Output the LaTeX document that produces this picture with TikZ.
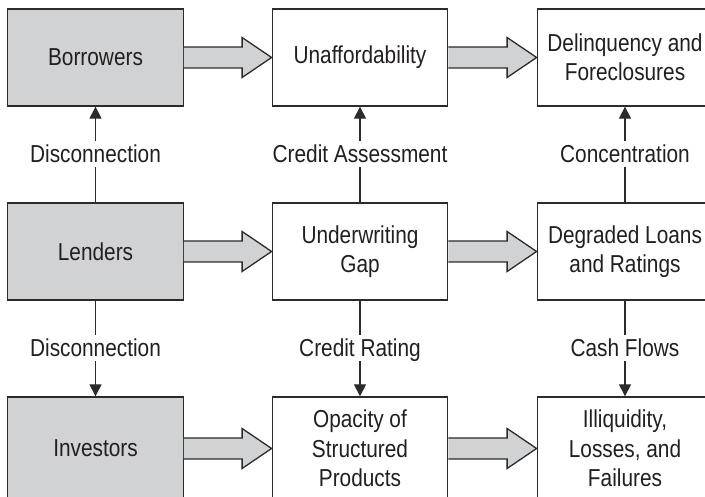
\documentclass[tikz,border=0pt]{standalone}
\usepackage{fontspec}
\setmainfont{Liberation Sans}[FakeStretch=0.85]
\usetikzlibrary{arrows.meta}
\definecolor{boxgray}{HTML}{D1D2D4}
\definecolor{ink}{HTML}{231F20}
\definecolor{edge}{HTML}{2B2B2B}
\tikzset{
  box/.style={draw=edge, line width=1.3pt, minimum width=175.5pt, minimum height=97pt,
    align=center, inner sep=0pt, text=ink, font=\fontsize{24.5}{29.5}\selectfont},
  actor/.style={box, fill=boxgray},
  outcome/.style={box, fill=white},
  tall/.style={minimum height=103pt},
  link/.style={draw=edge, line width=1.1pt, -{Triangle[width=12pt,length=12pt]}},
  lab/.style={fill=white, text=ink, inner xsep=1pt, inner ysep=2pt, text height=19pt, text depth=3pt,
    font=\fontsize{24.5}{29.5}\selectfont},
  blk/.style={fill=boxgray, draw=edge, line width=1.3pt, line join=miter}
}
\newcommand\blockarrow[2]{%
  \filldraw[blk] ([yshift=10.5pt]#1.east) -- ([xshift=-29.5pt,yshift=10.5pt]#2.west)
    -- ([xshift=-29.5pt,yshift=20pt]#2.west) -- (#2.west)
    -- ([xshift=-29.5pt,yshift=-20pt]#2.west) -- ([xshift=-29.5pt,yshift=-10.5pt]#2.west)
    -- ([yshift=-10.5pt]#1.east);}
\begin{document}
\begin{tikzpicture}[x=1pt,y=1pt]
\useasboundingbox (0,0) rectangle (705,497);
% row 1
\node[actor]   (borr)  at (95.5,439.5) {Borrowers};
\node[outcome] (unaff) at (360,439.5)  {Unaffordability};
\node[outcome] (delin) at (625,439.5)  {Delinquency and\\Foreclosures};
% row 2
\node[actor]   (lend)  at (95.5,245.5) {Lenders};
\node[outcome] (under) at (360,245.5)  {Underwriting\\Gap};
\node[outcome] (degr)  at (625,245.5)  {Degraded Loans\\and Ratings};
% row 3
\node[actor,tall]   (inv)   at (95.5,48.5) {Investors};
\node[outcome,tall] (opac)  at (360,48.5)  {Opacity of\\Structured\\Products};
\node[outcome,tall] (illiq) at (625,48.5)  {Illiquidity,\\Losses, and\\Failures};
% block arrows
\blockarrow{borr}{unaff}
\blockarrow{unaff}{delin}
\blockarrow{lend}{under}
\blockarrow{under}{degr}
\blockarrow{inv}{opac}
\blockarrow{opac}{illiq}
% vertical links
\draw[link] (lend) -- node[lab] {Disconnection} (borr);
\draw[link] (lend) -- node[lab] {Disconnection} (inv);
\draw[link] (under) -- node[lab] {Credit Assessment} (unaff);
\draw[link] (under) -- node[lab] {Credit Rating} (opac);
\draw[link] (degr) -- node[lab] {Concentration} (delin);
\draw[link] (degr) -- node[lab] {Cash Flows} (illiq);
\end{tikzpicture}
\end{document}
